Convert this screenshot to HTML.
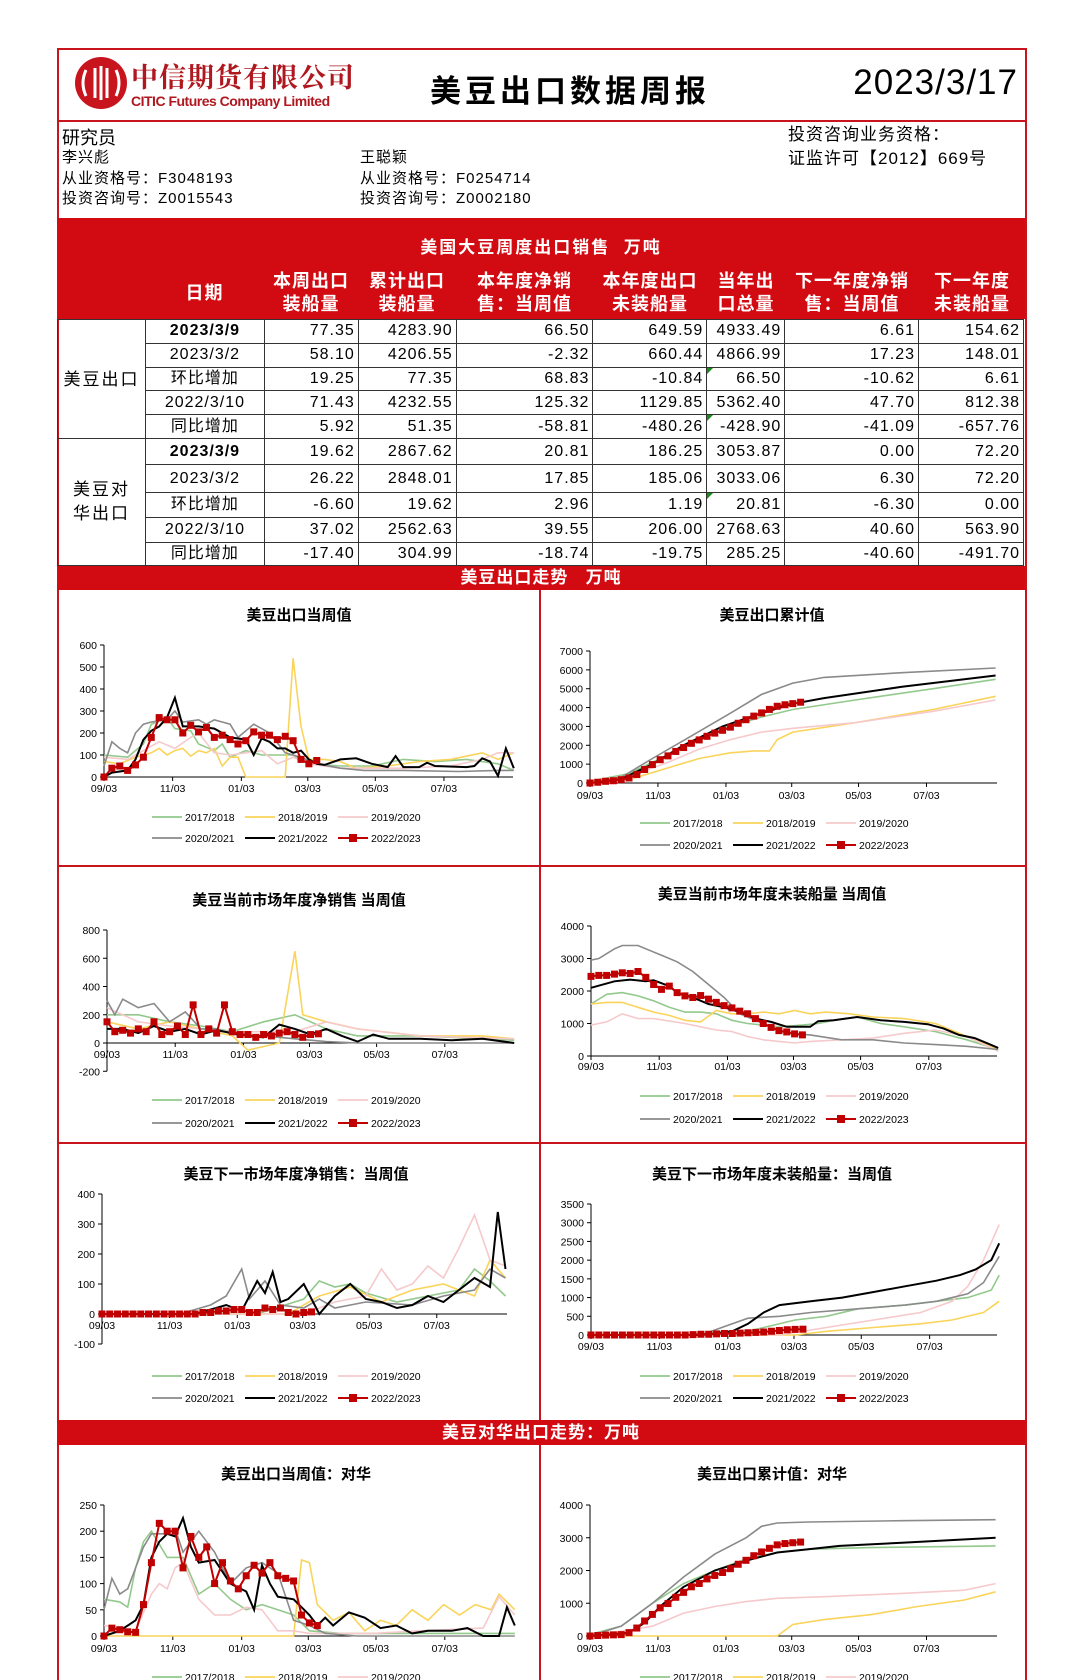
<!DOCTYPE html>
<html><head><meta charset="utf-8">
<style>
body{margin:0;background:#fff;}
#pg{position:relative;width:1083px;height:1680px;overflow:hidden;font-family:"Liberation Sans","Noto Sans CJK SC",sans-serif;color:#000;}
.a{position:absolute;}
.red{background:#d20a11;}
.w{color:#fff;font-weight:bold;}
table{border-collapse:collapse;position:absolute;left:57px;top:319px;width:967px;}
td{border:1px solid #333;font-size:16px;padding:0 3px;letter-spacing:1px;text-align:right;white-space:nowrap;line-height:1;}
td.c{text-align:center;}
td.b{font-weight:bold;}
td.g{text-align:center;letter-spacing:2px;}
.tri{position:relative;}
.tri:before{content:"";position:absolute;left:0;top:0;border-top:6px solid #1a8a1a;border-right:6px solid transparent;}
.hd{position:absolute;top:270px;color:#fff;font-weight:bold;font-size:18px;line-height:23px;text-align:center;letter-spacing:1px;}
</style></head><body>
<div id="pg">
<div class="a" style="left:57px;top:48px;width:966px;height:1640px;border:2px solid #c8141c;"></div>
<div class="a" style="left:57px;top:120px;width:968px;height:2px;background:#c8141c;"></div>
<svg class="a" style="left:74px;top:56px" width="54" height="54" viewBox="0 0 54 54">
<circle cx="27" cy="27" r="26" fill="#c8141c"/>
<g fill="none" stroke="#fff" stroke-width="3">
<path d="M12 14 Q6 27 12 40"/><path d="M42 14 Q48 27 42 40"/>
<line x1="21" y1="12" x2="21" y2="42"/><line x1="27" y1="10" x2="27" y2="44"/><line x1="33" y1="12" x2="33" y2="42"/>
</g></svg>
<div class="a" style="left:131px;top:56px;font-size:27px;font-weight:bold;color:#b01820;letter-spacing:1px;font-family:'Noto Serif CJK SC','Noto Sans CJK SC',serif;">中信期货有限公司</div>
<div class="a" style="left:131px;top:93px;font-size:14px;font-weight:bold;color:#b01820;letter-spacing:-0.5px;">CITIC Futures Company Limited</div>
<div class="a" style="left:430px;top:66px;font-size:31px;font-weight:bold;letter-spacing:4px;">美豆出口数据周报</div>
<div class="a" style="left:780px;top:63px;width:238px;text-align:right;font-size:35px;letter-spacing:1px;">2023/3/17</div>
<div class="a" style="left:62px;top:124px;font-size:18px;">研究员</div>
<div class="a" style="left:62px;top:148px;font-size:15px;line-height:20.5px;letter-spacing:1px;">李兴彪<br>从业资格号：F3048193<br>投资咨询号：Z0015543</div>
<div class="a" style="left:360px;top:148px;font-size:15px;line-height:20.5px;letter-spacing:1px;">王聪颖<br>从业资格号：F0254714<br>投资咨询号：Z0002180</div>
<div class="a" style="left:788px;top:123px;font-size:17px;line-height:24px;letter-spacing:1px;">投资咨询业务资格：<br>证监许可【2012】669号</div>
<div class="a red" style="left:57px;top:218px;width:968px;height:101px;"></div>
<div class="a w" style="left:57px;top:233px;width:968px;text-align:center;font-size:17px;letter-spacing:2px;">美国大豆周度出口销售&nbsp; 万吨</div>
<div class="hd" style="left:145px;width:119px;top:282px;">日期</div>
<div class="hd" style="left:264px;width:94px;">本周出口<br>装船量</div>
<div class="hd" style="left:358px;width:98px;">累计出口<br>装船量</div>
<div class="hd" style="left:456px;width:137px;">本年度净销<br>售：当周值</div>
<div class="hd" style="left:593px;width:114px;">本年度出口<br>未装船量</div>
<div class="hd" style="left:707px;width:78px;">当年出<br>口总量</div>
<div class="hd" style="left:785px;width:134px;">下一年度净销<br>售：当周值</div>
<div class="hd" style="left:919px;width:106px;">下一年度<br>未装船量</div>
<table>
<colgroup><col style="width:88px"><col style="width:119px"><col style="width:94px"><col style="width:98px"><col style="width:137px"><col style="width:114px"><col style="width:78px"><col style="width:134px"><col style="width:105px"></colgroup>
<tr style="height:23.5px"><td class="g" rowspan="5" style="font-size:17px">美豆出口</td><td class="c b">2023/3/9</td><td>77.35</td><td>4283.90</td><td>66.50</td><td>649.59</td><td>4933.49</td><td>6.61</td><td>154.62</td></tr>
<tr style="height:24px"><td class="c">2023/3/2</td><td>58.10</td><td>4206.55</td><td>-2.32</td><td>660.44</td><td>4866.99</td><td>17.23</td><td>148.01</td></tr>
<tr style="height:23.7px"><td class="c">环比增加</td><td>19.25</td><td>77.35</td><td>68.83</td><td>-10.84</td><td class="tri">66.50</td><td>-10.62</td><td>6.61</td></tr>
<tr style="height:24px"><td class="c">2022/3/10</td><td>71.43</td><td>4232.55</td><td>125.32</td><td>1129.85</td><td>5362.40</td><td>47.70</td><td>812.38</td></tr>
<tr style="height:24.3px"><td class="c">同比增加</td><td>5.92</td><td>51.35</td><td>-58.81</td><td>-480.26</td><td class="tri">-428.90</td><td>-41.09</td><td>-657.76</td></tr>
<tr style="height:26px"><td class="g" rowspan="5" style="font-size:17px;line-height:24px">美豆对<br>华出口</td><td class="c b">2023/3/9</td><td>19.62</td><td>2867.62</td><td>20.81</td><td>186.25</td><td>3053.87</td><td>0.00</td><td>72.20</td></tr>
<tr style="height:27.4px"><td class="c">2023/3/2</td><td>26.22</td><td>2848.01</td><td>17.85</td><td>185.06</td><td>3033.06</td><td>6.30</td><td>72.20</td></tr>
<tr style="height:25.6px"><td class="c">环比增加</td><td>-6.60</td><td>19.62</td><td>2.96</td><td>1.19</td><td class="tri">20.81</td><td>-6.30</td><td>0.00</td></tr>
<tr style="height:24.4px"><td class="c">2022/3/10</td><td>37.02</td><td>2562.63</td><td>39.55</td><td>206.00</td><td>2768.63</td><td>40.60</td><td>563.90</td></tr>
<tr style="height:23.3px"><td class="c">同比增加</td><td>-17.40</td><td>304.99</td><td>-18.74</td><td>-19.75</td><td>285.25</td><td>-40.60</td><td>-491.70</td></tr>
</table>
<div class="a red" style="left:57px;top:566px;width:968px;height:24px;"></div>
<div class="a w" style="left:57px;top:566px;width:968px;height:24px;line-height:24px;text-align:center;font-size:17px;letter-spacing:1px;">美豆出口走势&nbsp;&nbsp; 万吨</div>
<div class="a" style="left:539px;top:590px;width:2px;height:830px;background:#c8141c;"></div>
<div class="a" style="left:57px;top:865px;width:968px;height:2px;background:#c8141c;"></div>
<div class="a" style="left:57px;top:1142px;width:968px;height:2px;background:#c8141c;"></div>
<div class="a red" style="left:57px;top:1420px;width:968px;height:25px;"></div>
<div class="a w" style="left:57px;top:1420px;width:968px;height:25px;line-height:25px;text-align:center;font-size:17px;letter-spacing:1px;">美豆对华出口走势：万吨</div>
<div class="a" style="left:539px;top:1445px;width:2px;height:240px;background:#c8141c;"></div>
<svg id="ch" class="a" style="left:0;top:0" width="1083" height="1680"></svg>
</div>
<script>
var NS="http://www.w3.org/2000/svg",S=document.getElementById("ch");
function el(t,a,tx){var e=document.createElementNS(NS,t);for(var k in a)e.setAttribute(k,a[k]);if(tx!=null)e.textContent=tx;S.appendChild(e);return e;}
var COL={g:"#93c98c",y:"#fad45a",p:"#f6c9cc",k:"#8a8a8a",b:"#000",r:"#c00000"};
function cum(a,s){var o=[],t=0;for(var i=0;i<a.length;i++){t+=a[i];o.push(t);}if(s){var f=s/t;o=o.map(function(v){return v*f;});}return o;}
function chart(c){
 var py=function(v){return c.p0+(v/c.tv)*(c.pt-c.p0);};
 var px=function(w){return c.x0+w*c.wk;};
 el("text",{x:c.tx,y:c.ty,"text-anchor":"middle","font-size":"15","font-weight":"bold","font-family":"Noto Sans CJK SC,sans-serif"},c.title);
 var ymin=c.ticks[0],ymax=c.ticks[c.ticks.length-1];
 el("line",{x1:c.x0,y1:py(ymin),x2:c.x0,y2:py(ymax),stroke:"#000","stroke-width":1});
 c.ticks.forEach(function(v){el("line",{x1:c.x0-4,x2:c.x0,y1:py(v),y2:py(v),stroke:"#000"});
  el("text",{x:c.x0-7,y:py(v)+4,"text-anchor":"end","font-size":"10.5"},String(v));});
 var xe=c.xe;el("line",{x1:c.x0,x2:xe,y1:py(0),y2:py(0),stroke:"#000"});
 var ml=["09/03","11/03","01/03","03/03","05/03","07/03"],mw=[0,8.71,17.43,25.86,34.43,43.14];
 for(var i=0;i<6;i++){var X=px(mw[i]);el("line",{x1:X,x2:X,y1:py(0),y2:py(0)+4,stroke:"#000"});
  el("text",{x:X,y:c.xl,"text-anchor":"middle","font-size":"10.5"},ml[i]);}
 ["g","y","p","k","b"].forEach(function(k){var d=c.s[k];var pts=d.map(function(q){return px(q[0]).toFixed(1)+","+py(q[1]).toFixed(1);}).join(" ");
  el("polyline",{points:pts,fill:"none",stroke:COL[k],"stroke-width":k=="b"?2:1.6});});
 var r=c.s.r,rp=r.map(function(v,i){return px(i).toFixed(1)+","+py(v).toFixed(1);}).join(" ");
 el("polyline",{points:rp,fill:"none",stroke:COL.r,"stroke-width":2});
 r.forEach(function(v,i){el("rect",{x:px(i)-3.5,y:py(v)-3.5,width:7,height:7,fill:COL.r});});
 var L=[["g","2017/2018"],["y","2018/2019"],["p","2019/2020"],["k","2020/2021"],["b","2021/2022"],["r","2022/2023"]];
 L.forEach(function(it,j){var row=j<3?0:1,cx=c.lx+(j%3)*93,Y=(row?c.ly2:c.ly1);
  el("line",{x1:cx,x2:cx+30,y1:Y,y2:Y,stroke:COL[it[0]],"stroke-width":it[0]=="b"||it[0]=="r"?2:1.8});
  if(it[0]=="r")el("rect",{x:cx+11,y:Y-4,width:8,height:8,fill:COL.r});
  el("text",{x:cx+33,y:Y+4,"font-size":"10.5"},it[1]);});
}
var r1=[0,40,50,30,55,90,180,270,260,260,200,235,205,225,180,190,170,150,165,205,190,190,170,185,165,80,60,75];
chart({title:"美豆出口当周值",tx:299,ty:620,x0:104,wk:7.88,xe:513,p0:777,pt:645,tv:600,ticks:[0,100,200,300,400,500,600],xl:792,lx:152,ly1:817,ly2:838,
s:{r:r1,
b:[[0,0],[1,20],[3,30],[4,80],[5,170],[6,210],[7,230],[8,270],[9,360],[10,230],[12,230],[14,220],[16,180],[18,170],[19,100],[20,175],[21,160],[22,130],[23,130],[24,110],[25,120],[26,80],[27,60],[28,55],[30,80],[32,85],[34,60],[36,45],[37,95],[38,45],[40,45],[41,65],[42,50],[46,45],[47,50],[48,85],[49,70],[50,5],[51,130],[52,40]],
y:[[0,70],[2,60],[4,90],[6,110],[7,130],[8,100],[9,120],[10,130],[11,95],[12,120],[13,110],[14,130],[15,50],[16,90],[17,90],[18,0],[23,0],[24,540],[25,230],[26,80],[28,80],[30,70],[32,40],[36,50],[40,70],[44,80],[48,110],[50,80],[52,110]],
k:[[0,50],[1,160],[2,130],[3,110],[4,200],[5,240],[6,250],[8,260],[9,300],[10,250],[12,260],[13,240],[14,260],[15,250],[16,240],[17,180],[19,240],[20,220],[21,200],[23,110],[25,90],[27,60],[30,40],[33,30],[38,30],[45,25],[50,30],[52,30]],
g:[[0,100],[3,90],[5,150],[6,240],[8,270],[9,220],[11,210],[12,150],[14,120],[15,150],[16,90],[18,120],[20,100],[24,100],[26,60],[30,50],[34,50],[38,80],[42,70],[46,80],[50,60],[52,30]],
p:[[0,90],[3,80],[5,120],[7,160],[9,130],[11,180],[12,200],[14,110],[16,100],[18,110],[20,120],[22,60],[24,90],[26,60],[30,40],[38,40],[44,50],[48,80],[50,110],[52,110]]}});
chart({title:"美豆出口累计值",tx:772,ty:620,x0:590,wk:7.8,xe:997,p0:783,pt:651,tv:7000,ticks:[0,1000,2000,3000,4000,5000,6000,7000],xl:799,lx:640,ly1:823,ly2:845,
s:{r:cum(r1,4284),
b:[[0,0],[4,200],[8,1000],[12,2000],[17,3000],[22,3700],[26,4200],[30,4500],[40,5100],[52,5700]],
k:[[0,0],[4,300],[8,1300],[13,2500],[18,3700],[22,4700],[26,5300],[30,5600],[40,5850],[52,6100]],
g:[[0,100],[5,500],[9,1300],[14,2300],[18,3000],[22,3500],[26,3900],[34,4400],[44,5000],[52,5500]],
y:[[0,0],[6,300],[10,800],[14,1300],[18,1600],[21,1700],[23,1700],[24,2300],[26,2700],[34,3200],[44,3900],[52,4600]],
p:[[0,0],[6,500],[10,1100],[14,1800],[18,2300],[22,2700],[26,2900],[34,3200],[44,3800],[52,4400]]}});
chart({title:"美豆当前市场年度净销售 当周值",tx:299,ty:905,x0:107,wk:7.83,xe:513,p0:1043,pt:930,tv:800,ticks:[-200,0,200,400,600,800],xl:1058,lx:152,ly1:1100,ly2:1123,
s:{r:[150,80,90,70,100,80,150,60,80,120,60,270,60,100,70,270,80,60,60,40,60,50,70,80,60,40,60,65],
b:[[0,100],[2,100],[4,70],[6,120],[8,80],[10,100],[12,60],[14,90],[16,70],[18,50],[20,40],[22,130],[24,100],[26,60],[28,100],[30,50],[32,10],[34,60],[36,30],[40,30],[44,20],[48,30],[52,0]],
k:[[0,300],[1,200],[2,310],[4,250],[6,280],[8,150],[10,220],[12,100],[14,100],[16,60],[20,50],[24,30],[28,10],[32,0],[52,0]],
y:[[0,150],[4,100],[8,150],[12,100],[16,50],[18,-50],[22,0],[24,650],[25,200],[28,150],[32,100],[40,50],[48,50],[52,30]],
g:[[0,200],[4,200],[8,150],[12,120],[16,80],[20,150],[24,200],[28,100],[32,50],[40,50],[52,20]],
p:[[0,250],[4,150],[8,120],[12,100],[16,80],[20,80],[24,80],[28,150],[32,100],[40,50],[52,30]]}});
chart({title:"美豆当前市场年度未装船量 当周值",tx:772,ty:899,x0:591,wk:7.83,xe:997,p0:1056,pt:926,tv:4000,ticks:[0,1000,2000,3000,4000],xl:1070,lx:640,ly1:1096,ly2:1119,
s:{r:[2450,2480,2480,2520,2560,2540,2600,2420,2200,2050,2150,1950,1850,1800,1860,1750,1650,1550,1480,1380,1300,1150,1000,880,780,740,680,650],
b:[[0,2100],[3,2300],[5,2350],[7,2300],[8,2330],[10,2150],[11,1950],[13,1800],[15,1600],[17,1500],[19,1350],[21,1150],[23,1050],[25,900],[28,900],[29,1070],[31,1100],[34,1200],[37,1100],[40,1050],[43,980],[45,850],[47,650],[49,550],[51,350],[52,250]],
k:[[0,2950],[1,3000],[3,3300],[4,3400],[6,3400],[7,3300],[9,3100],[11,2900],[13,2600],[15,2200],[17,1800],[19,1300],[21,1100],[23,900],[25,700],[28,650],[32,500],[36,500],[40,400],[44,350],[48,300],[52,200]],
g:[[0,1600],[2,1900],[4,1950],[6,1850],[8,1700],[10,1500],[12,1350],[14,1350],[16,1300],[18,1100],[20,1000],[22,950],[24,900],[27,950],[29,1000],[31,1100],[34,1200],[37,1000],[40,900],[44,750],[48,500],[52,200]],
y:[[0,1600],[2,1650],[4,1650],[6,1500],[8,1350],[10,1250],[12,1100],[14,1050],[16,1400],[18,1300],[20,1300],[22,1350],[24,1300],[26,1400],[28,1300],[30,1350],[33,1300],[36,1200],[40,1150],[44,1000],[48,600],[52,200]],
p:[[0,950],[2,1050],[4,1300],[6,1150],[8,1150],[12,1000],[14,900],[16,800],[18,750],[20,600],[22,500],[24,450],[26,400],[28,450],[32,500],[36,550],[40,700],[44,800],[48,600],[52,150]]}});
chart({title:"美豆下一市场年度净销售：当周值",tx:296,ty:1179,x0:102,wk:7.76,xe:507,p0:1314,pt:1194,tv:400,ticks:[-100,0,100,200,300,400],xl:1329,lx:152,ly1:1376,ly2:1398,
s:{r:[0,0,0,0,0,0,0,0,0,0,0,0,0,5,5,10,10,15,15,5,5,20,15,20,5,0,5,7],
b:[[0,0],[12,0],[16,30],[18,10],[20,110],[21,70],[22,140],[23,40],[24,50],[26,100],[28,0],[30,60],[32,100],[34,50],[36,40],[38,20],[40,30],[42,60],[44,40],[46,80],[48,120],[50,90],[51,340],[52,150]],
k:[[0,0],[10,0],[14,30],[16,60],[18,150],[19,50],[21,110],[23,30],[26,20],[28,50],[30,20],[34,40],[40,30],[44,60],[48,80],[50,150],[52,120]],
g:[[0,0],[20,0],[26,50],[28,110],[30,90],[32,100],[34,70],[38,40],[42,60],[46,80],[48,150],[50,110],[52,60]],
y:[[0,0],[24,0],[28,60],[32,90],[36,40],[40,80],[44,100],[48,60],[50,180],[52,120]],
p:[[0,0],[26,0],[30,40],[34,60],[36,150],[38,80],[40,100],[42,160],[44,120],[46,220],[48,330],[50,180],[52,160]]}});
chart({title:"美豆下一市场年度未装船量：当周值",tx:772,ty:1179,x0:591,wk:7.85,xe:997,p0:1335,pt:1204,tv:3500,ticks:[0,500,1000,1500,2000,2500,3000,3500],xl:1350,lx:640,ly1:1376,ly2:1398,
s:{r:[0,0,0,0,0,0,0,0,0,0,0,0,0,10,20,20,30,40,40,50,60,70,80,100,120,140,150,155],
b:[[0,0],[14,0],[18,100],[20,300],[22,600],[24,800],[28,900],[32,1000],[36,1150],[40,1300],[44,1450],[47,1600],[49,1750],[51,2000],[52,2450]],
k:[[0,0],[14,0],[18,300],[20,450],[24,500],[28,600],[34,700],[40,800],[44,900],[48,1100],[50,1400],[52,2100]],
g:[[0,0],[18,0],[22,200],[26,400],[30,500],[34,700],[40,800],[44,900],[48,1000],[51,1200],[52,1600]],
y:[[0,0],[26,0],[30,100],[36,200],[42,300],[46,400],[50,600],[52,900]],
p:[[0,0],[24,0],[30,200],[36,400],[42,600],[46,900],[48,1300],[50,2000],[52,2950]]}});
var r7=[0,15,12,8,7,60,140,215,200,200,130,190,150,170,100,140,105,90,115,135,120,140,115,110,105,40,25,20];
chart({title:"美豆出口当周值：对华",tx:296,ty:1479,x0:104,wk:7.9,xe:513,p0:1636,pt:1505,tv:250,ticks:[0,50,100,150,200,250],xl:1652,lx:152,ly1:1677,ly2:1699,
s:{r:r7,
b:[[0,0],[2,10],[4,30],[5,60],[6,150],[7,180],[8,195],[9,190],[10,225],[11,170],[12,140],[14,145],[16,100],[18,85],[19,50],[20,135],[21,100],[22,75],[24,70],[26,40],[27,20],[28,35],[29,20],[31,45],[33,35],[35,15],[37,20],[39,5],[41,10],[44,10],[46,15],[48,0],[50,0],[51,55],[52,20]],
k:[[0,50],[1,110],[2,80],[3,90],[4,130],[5,170],[6,195],[8,195],[9,205],[10,160],[12,200],[14,160],[16,100],[18,130],[20,140],[22,120],[24,30],[26,20],[28,5],[32,0],[52,0]],
g:[[0,70],[2,65],[3,55],[4,130],[5,180],[6,200],[8,150],[10,150],[12,80],[14,100],[16,70],[18,50],[20,60],[22,50],[24,40],[26,10],[30,5],[52,5]],
y:[[0,0],[24,0],[25,145],[26,140],[27,60],[29,30],[31,45],[33,10],[35,30],[37,20],[39,50],[41,30],[43,60],[45,40],[47,60],[49,50],[50,80],[52,50]],
p:[[0,20],[4,10],[6,80],[7,100],[8,90],[9,130],[10,140],[12,70],[14,40],[16,40],[18,55],[20,50],[22,10],[24,10],[26,5],[34,5],[40,10],[48,15],[50,75],[52,40]]}});
chart({title:"美豆出口累计值：对华",tx:772,ty:1479,x0:590,wk:7.8,xe:997,p0:1636,pt:1505,tv:4000,ticks:[0,1000,2000,3000,4000],xl:1652,lx:640,ly1:1677,ly2:1699,
s:{r:cum(r7,2868),
b:[[0,0],[5,100],[7,400],[9,900],[12,1500],[16,2000],[20,2300],[24,2550],[28,2650],[32,2750],[40,2850],[52,3000]],
k:[[0,0],[4,300],[8,1000],[12,1800],[16,2500],[20,3000],[22,3350],[24,3450],[28,3480],[40,3520],[52,3550]],
g:[[0,50],[4,300],[8,1000],[12,1600],[16,2000],[20,2350],[24,2550],[28,2650],[36,2700],[52,2750]],
y:[[0,0],[24,0],[26,350],[30,500],[36,650],[42,900],[48,1100],[52,1350]],
p:[[0,0],[8,300],[12,700],[16,900],[20,1050],[24,1150],[30,1200],[40,1300],[48,1400],[52,1600]]}});
</script>
</body></html>
